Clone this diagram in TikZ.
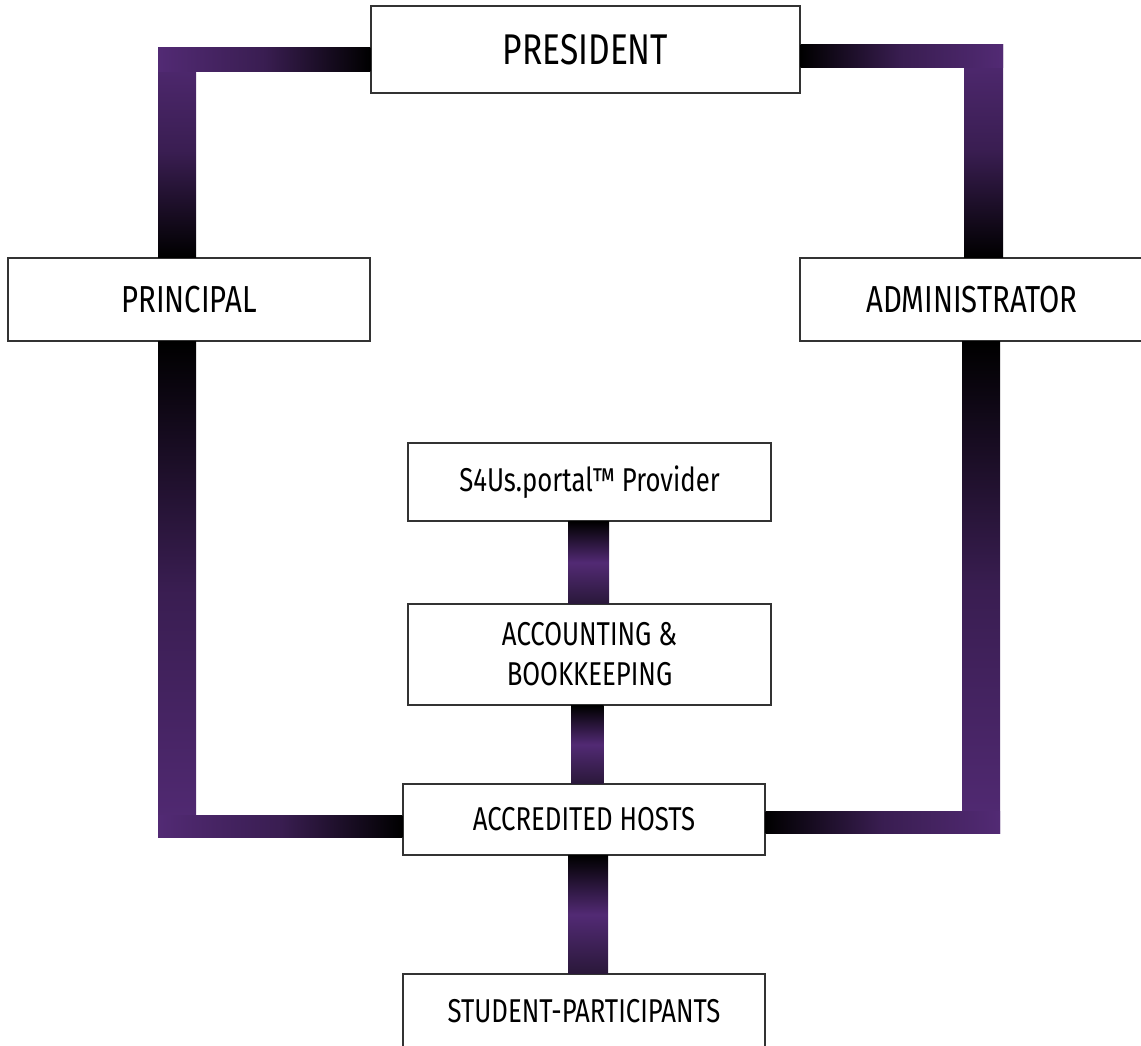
\documentclass[tikz,border=0pt]{standalone}
\usepackage{fontspec}
\setmainfont{Fira Sans}[FakeStretch=0.78]
\usepackage{tikz}
\usetikzlibrary{calc}
\definecolor{orgpurple}{RGB}{82,42,116}
\definecolor{orgdark}{RGB}{42,24,58}

\begin{document}
\begin{tikzpicture}[x=0.5pt, y=-0.5pt,
    post/.style={draw=black!80, line width=0.6pt, fill=white, inner sep=0pt,
        align=center, font=\fontsize{16.5}{20}\selectfont},
    big/.style={font=\fontsize{21.5}{26}\selectfont},
    mid/.style={font=\fontsize{18.8}{22}\selectfont},
    linkV/.style={top color=black, bottom color=orgdark, middle color=orgpurple},
    toBlackV/.style={top color=orgpurple, bottom color=black, middle color=orgpurple!70!black},
    fromBlackV/.style={top color=black, bottom color=orgpurple, middle color=orgpurple!70!black},
    toBlackH/.style={left color=orgpurple, right color=black, middle color=orgpurple!70!black},
    fromBlackH/.style={left color=black, right color=orgpurple, middle color=orgpurple!70!black}]

    \useasboundingbox (0,0) rectangle (1141,1045);

    % boxes
    \node[post, big, minimum width=214.5pt, minimum height=43.5pt] (pres) at (585.5,49.5) {PRESIDENT};
    \node[post, mid, minimum width=181pt, minimum height=41.5pt] (princ) at (189,299.5) {PRINCIPAL};
    \node[post, mid, minimum width=172pt, minimum height=41.5pt] (admin) at (972,299.5) {ADMINISTRATOR};
    \node[post, minimum width=181.5pt, minimum height=39pt] (portal) at (589.5,482) {S4Us.portal™ Provider};
    \node[post, minimum width=181.5pt, minimum height=50.5pt] (acct) at (589.5,654.5) {ACCOUNTING \&\\BOOKKEEPING};
    \node[post, minimum width=181pt, minimum height=35.5pt] (hosts) at (584,819.5) {ACCREDITED HOSTS};
    \node[post, minimum width=181pt, minimum height=37pt] (stud) at (584,1011) {STUDENT-PARTICIPANTS};

    % corners
    \coordinate (cTL) at (158,47);
    \coordinate (cTR) at (1003,44);
    \coordinate (cBL) at (158,837);
    \coordinate (cBR) at (1000,833);

    % left side
    \shade[toBlackV] (cTL) rectangle ($(cTL |- princ.north)+(38,0)$);
    \shade[toBlackH] (cTL) rectangle ($(pres.west |- cTL)+(0,24)$);
    \shade[fromBlackV] (cBL |- princ.south) rectangle ($(cBL)+(38,0)$);
    \shade[toBlackH] ($(cBL)+(0,-22)$) rectangle (hosts.west |- cBL);

    % right side
    \shade[toBlackV] ($(cTR)+(-39,0)$) rectangle (cTR |- admin.north);
    \shade[fromBlackH] (pres.east |- cTR) rectangle ($(cTR)+(0,23)$);
    \shade[fromBlackV] ($(cBR |- admin.south)+(-38,0)$) rectangle (cBR);
    \shade[fromBlackH] ($(hosts.east |- cBR)+(0,-22)$) rectangle (cBR);

    % middle column
    \shade[linkV] ([xshift=-10.75pt]portal.south) rectangle ([xshift=9.75pt]acct.north);
    \shade[linkV] ([xshift=-9.25pt]acct.south) rectangle ([xshift=9.75pt]hosts.north);
    \shade[linkV] ([xshift=-8pt]hosts.south) rectangle ([xshift=12pt]stud.north);

\end{tikzpicture}
\end{document}
